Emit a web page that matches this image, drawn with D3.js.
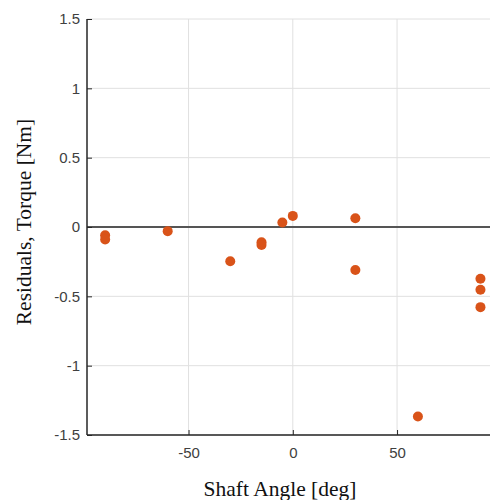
<!DOCTYPE html>
<html><head><meta charset="utf-8">
<script src="https://cdn.jsdelivr.net/npm/d3@7"></script>
<style>body{margin:0;background:#fff;}svg{display:block;}</style>
</head><body>
<script>
const angles = [-90, -90, -60, -30, -15, -15, -5, 0, 30, 30, 60, 90, 90, 90];
const residuals = [-0.06, -0.09, -0.03, -0.247, -0.11, -0.13, 0.033, 0.08, 0.063, -0.31, -1.366, -0.373, -0.453, -0.578];
const xTicks = [-50, 0, 50];
const yTicks = [-1.5, -1, -0.5, 0, 0.5, 1, 1.5];
const xLabel = "Shaft Angle [deg]";
const yLabel = "Residuals, Torque [Nm]";

const W = 490, H = 500;
const svg = d3.select("body").append("svg").attr("width", W).attr("height", H);
const x = d3.scaleLinear().domain([-98.7, 98.7]).range([87, 498.6]);
const y = d3.scaleLinear().domain([-1.5, 1.5]).range([435, 19]);
const fmt = d => String(d);

// grid
svg.append("g").selectAll("line").data(xTicks).join("line")
  .attr("x1", d => x(d)).attr("x2", d => x(d)).attr("y1", y(1.5)).attr("y2", y(-1.5))
  .attr("stroke", "#e0e0e0").attr("stroke-width", 1);
svg.append("g").selectAll("line").data(yTicks).join("line")
  .attr("x1", x(-98.7)).attr("x2", W).attr("y1", d => y(d)).attr("y2", d => y(d))
  .attr("stroke", "#e0e0e0").attr("stroke-width", 1);

// zero line
svg.append("line").attr("x1", x(-98.7)).attr("x2", W).attr("y1", y(0)).attr("y2", y(0))
  .attr("stroke", "#555").attr("stroke-width", 2);

// axes
const xAxis = d3.axisBottom(x).tickValues(xTicks).tickSize(-5).tickPadding(12).tickFormat(fmt);
const gx = svg.append("g").attr("transform", `translate(0,${y(-1.5)})`).call(xAxis);
const yAxis = d3.axisLeft(y).tickValues(yTicks).tickSize(-5).tickPadding(7).tickFormat(fmt);
const gy = svg.append("g").attr("transform", `translate(${x(-98.7)},0)`).call(yAxis);
[gx, gy].forEach(g => {
  g.select(".domain").attr("stroke", "#262626").attr("stroke-width", 1.5);
  g.selectAll(".tick line").attr("stroke", "#262626");
  g.selectAll(".tick text").attr("fill", "#404040").attr("font-family", "Liberation Sans, Arial, sans-serif").attr("font-size", 15);
});
gx.select(".domain").attr("d", `M${x(-98.7)},0H${W}`);
gy.select(".domain").attr("d", `M0,${y(-1.5)}V${y(1.5)}`);

// points
svg.append("g").selectAll("circle").data(angles.map((a, i) => [a, residuals[i]])).join("circle")
  .attr("cx", d => x(d[0])).attr("cy", d => y(d[1])).attr("r", 5)
  .attr("fill", "#D95319");

// labels
svg.append("text").attr("x", 280).attr("y", 496).attr("text-anchor", "middle")
  .attr("font-family", "Liberation Serif, Times New Roman, serif").attr("font-size", 21.5).attr("fill", "#111")
  .text(xLabel);
svg.append("text").attr("transform", `translate(31,222) rotate(-90)`).attr("text-anchor", "middle")
  .attr("font-family", "Liberation Serif, Times New Roman, serif").attr("font-size", 21.5).attr("fill", "#111")
  .text(yLabel);
</script>
</body></html>
